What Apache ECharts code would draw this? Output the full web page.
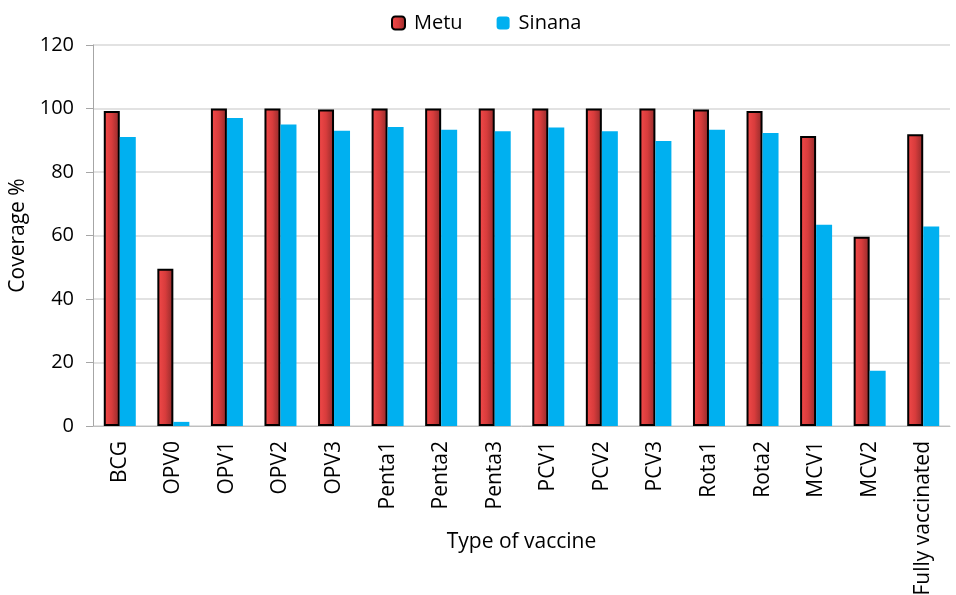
<!DOCTYPE html>
<html><head><meta charset="utf-8">
<script src="https://cdn.jsdelivr.net/npm/echarts@6/dist/echarts.min.js"></script>
<style>html,body{margin:0;padding:0;background:#fff}#c{width:956px;height:595px}</style>
</head><body><div id="c"></div>
<script>
const categories = ["BCG","OPV0","OPV1","OPV2","OPV3","Penta1","Penta2","Penta3","PCV1","PCV2","PCV3","Rota1","Rota2","MCV1","MCV2","Fully vaccinated"];
const metu = [99.2, 49.5, 100, 100, 99.7, 100, 100, 100, 100, 100, 100, 99.7, 99.2, 91.3, 59.6, 91.9];
const sinana = [91.0, 1.3, 97.0, 95.0, 93.0, 94.2, 93.3, 92.8, 94.0, 92.8, 89.8, 93.3, 92.3, 63.4, 17.4, 62.8];
const yTicks = [0, 20, 40, 60, 80, 100, 120];

const FONT = '"Open Sans", sans-serif';
const redGrad = new echarts.graphic.LinearGradient(0, 0, 1, 0, [
  {offset: 0, color: '#F44A4A'},
  {offset: 0.5, color: '#D83C3C'},
  {offset: 1, color: '#8E2A2A'}
]);
const chart = echarts.init(document.getElementById('c'));
chart.setOption({
  animation: false,
  textStyle: {fontFamily: FONT},
  legend: {
    top: 8, left: 386, itemWidth: 13, itemHeight: 13, itemGap: 34,
    textStyle: {fontSize: 20, color: '#000', fontFamily: FONT, padding: [0, 0, 0, 4]},
    data: [
      {name: 'Metu', itemStyle: {color: redGrad, borderColor: '#000', borderWidth: 2}},
      {name: 'Sinana', itemStyle: {color: '#00B0F0'}}
    ]
  },
  grid: {left: 93, right: 6, top: 45, bottom: 169, containLabel: false, outerBoundsMode: 'none'},
  xAxis: {
    type: 'category', data: categories,
    name: 'Type of vaccine', nameLocation: 'middle', nameGap: 106, nameMoveOverlap: false,
    nameTextStyle: {fontSize: 21, color: '#000', fontFamily: FONT},
    axisLine: {lineStyle: {color: '#BFBFBF', width: 1}},
    axisTick: {show: false},
    axisLabel: {rotate: 90, fontSize: 21, color: '#000', margin: 15, interval: 0, fontFamily: FONT}
  },
  yAxis: {
    type: 'value', min: 0, max: 120, interval: 20,
    name: 'Coverage %', nameLocation: 'middle', nameGap: 64, nameMoveOverlap: false,
    nameTextStyle: {fontSize: 21, color: '#000', fontFamily: FONT},
    axisLine: {show: true, lineStyle: {color: '#A6A6A6'}},
    axisTick: {show: true, length: 7, lineStyle: {color: '#A6A6A6'}},
    axisLabel: {fontSize: 20, color: '#000', margin: 19, fontFamily: FONT,
      formatter: v => yTicks.includes(v) ? String(v) : ''},
    splitLine: {lineStyle: {color: '#D9D9D9', width: 1.5}}
  },
  series: [
    {name: 'Metu', type: 'bar', data: metu, barWidth: 16, barGap: '0%',
     itemStyle: {color: redGrad, borderColor: '#000', borderWidth: 2}},
    {name: 'Sinana', type: 'bar', data: sinana, barWidth: 16,
     itemStyle: {color: '#00B0F0'}}
  ]
});
</script></body></html>
